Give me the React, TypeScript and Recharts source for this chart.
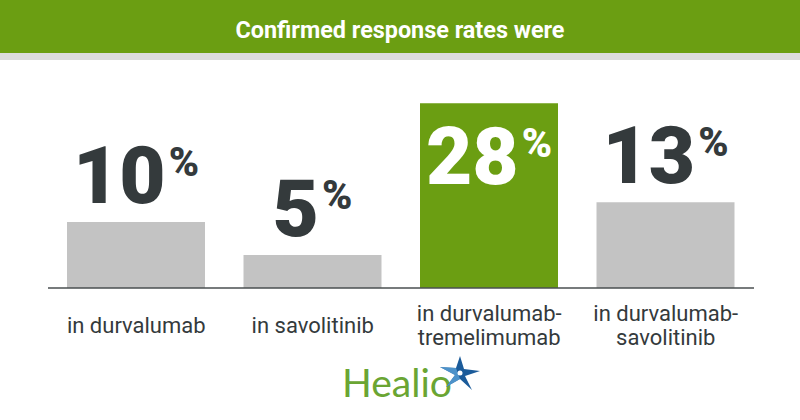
import React from 'react';
import { BarChart, Bar, XAxis, YAxis, Cell, LabelList } from 'recharts';

const categories = ['durvalumab', 'savolitinib', 'durvalumab-tremelimumab', 'durvalumab-savolitinib'];
const tickLines = [
  ['in durvalumab'],
  ['in savolitinib'],
  ['in durvalumab-', 'tremelimumab'],
  ['in durvalumab-', 'savolitinib'],
];
const rates = [10, 5, 28, 13];
const highlight = [false, false, true, false];

const GREEN = '#6b9e12';
const GRAY = '#c3c3c3';
const DARK = '#343a3c';

const data = categories.map((name, i) => ({ name, value: rates[i] }));

const ValueLabel = (props: any) => {
  const { x, y, width, value, index } = props;
  const inside = highlight[index];
  const cx = x + width / 2;
  const base = inside ? y + 81 : y - 19;
  return (
    <text
      x={cx}
      y={base}
      textAnchor="middle"
      fill={inside ? '#fff' : DARK}
      fontFamily="Roboto, sans-serif"
      fontWeight={900}
    >
      <tspan fontSize={80}>{value}</tspan>
      <tspan fontSize={41} dx={3} dy={-27}>%</tspan>
    </text>
  );
};

const CategoryTick = (props: any) => {
  const { x, y, payload } = props;
  const lines = tickLines[payload.index] || [payload.value];
  const first = y + 45 - (lines.length - 1) * 12;
  return (
    <text
      x={x}
      y={first}
      textAnchor="middle"
      fill={DARK}
      fontFamily="Roboto, sans-serif"
      fontSize={22}
    >
      {lines.map((l, i) => (
        <tspan key={i} x={x} dy={i === 0 ? 0 : 24}>{l}</tspan>
      ))}
    </text>
  );
};

export default function App() {
  return (
    <div style={{ position: 'absolute', left: 0, top: 0, width: 800, height: 420, background: '#fff' }}>
      <svg width={800} height={420} style={{ position: 'absolute', left: 0, top: 0 }}>
        <rect x={0} y={0} width={800} height={53} fill={GREEN} />
        <rect x={0} y={53} width={800} height={7} fill="#dcdcdc" />
        <text
          x={400}
          y={38}
          textAnchor="middle"
          fill="#fff"
          fontFamily="Roboto, sans-serif"
          fontWeight={700}
          fontSize={24}
          textLength={329}
          lengthAdjust="spacingAndGlyphs"
        >
          Confirmed response rates were
        </text>
        <text
          x={342}
          y={397}
          fill="#6aa533"
          fontFamily="Lato, 'Open Sans', sans-serif"
          fontSize={38}
          textLength={110}
          lengthAdjust="spacingAndGlyphs"
        >
          Healio
        </text>
        <g transform="translate(460 373)">
          <polygon points="0,-17 4,-4 20,-2 5,3 12,17 0,6 -14,14 -5,2 -20,-6 -4,-5" fill="#1b5b9a" />
          <polygon points="-4,-5 -20,-6 -5,2 -14,14 0,6" fill="#5aa0d6" opacity={0.8} />
          <circle cx={0} cy={0} r={2.5} fill="#fff" />
        </g>
      </svg>
      <div style={{ position: 'absolute', left: 0, top: 0 }}>
        <BarChart width={800} height={420} data={data} margin={{ top: 90, right: 46, bottom: 102, left: 48 }}>
          <YAxis hide domain={[0, 30]} />
          <XAxis
            dataKey="name"
            height={30}
            tickLine={false}
            tickSize={0}
            tickMargin={0}
            axisLine={{ stroke: '#4a4f51', strokeWidth: 1.5 }}
            tick={<CategoryTick />}
            interval={0}
          />
          <Bar dataKey="value" barSize={138} isAnimationActive={false}>
            {data.map((d, i) => (
              <Cell key={d.name} fill={highlight[i] ? GREEN : GRAY} />
            ))}
            <LabelList dataKey="value" content={<ValueLabel />} />
          </Bar>
        </BarChart>
      </div>
    </div>
  );
}
